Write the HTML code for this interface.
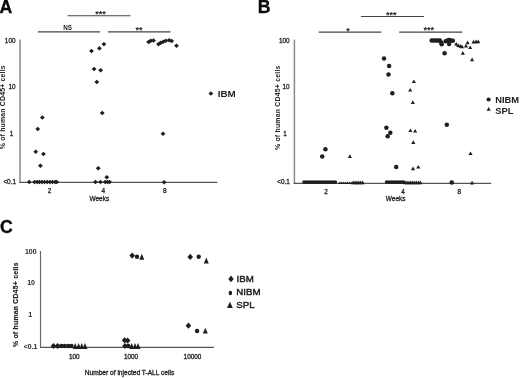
<!DOCTYPE html>
<html><head><meta charset="utf-8"><title>Figure</title>
<style>html,body{margin:0;padding:0;background:#fff}body{width:520px;height:378px;overflow:hidden}svg{display:block;filter:blur(0.35px)}</style>
</head><body>
<svg width="520" height="378" viewBox="0 0 520 378">
<rect width="520" height="378" fill="#fff"/>
<g stroke="#8a8a8a" stroke-width="1.5" fill="none">
<path d="M20.05 39.4V182.6"/>
<path d="M294.4 39.6V183.9"/>
<path d="M40.5 251V347.4" stroke="#666" stroke-width="1.15"/>
</g>
<g stroke="#555" stroke-width="1.25" fill="none">
<path d="M19.3 182.3H217.3"/>
<path d="M293.6 183.3H491.2"/>
<path d="M40 347.4H214" stroke-width="1.1"/>
</g>
<g stroke="#444" stroke-width="1.1" fill="none">
<path d="M67.5 15.7H130.5M37.8 31.9H100M108 31.9H170.5"/>
<path d="M361 16.5H424M318.7 32.1H381.3M399.2 32.1H462.3"/>
</g>
<g fill="#1e1e1e">
<path d="M42.4 115.3L44.8 117.5L42.4 119.8L40.0 117.5Z"/>
<path d="M37.8 126.8L40.1 129.1L37.8 131.3L35.4 129.1Z"/>
<path d="M35.8 149.6L38.1 151.8L35.8 154.1L33.4 151.8Z"/>
<path d="M43.4 151.7L45.8 153.9L43.4 156.2L41.0 153.9Z"/>
<path d="M40.4 163.6L42.8 165.8L40.4 168.1L38.0 165.8Z"/>
<path d="M29.2 179.8L31.6 182.1L29.2 184.3L26.9 182.1Z"/>
<path d="M34.5 179.8L36.9 182.1L34.5 184.3L32.1 182.1Z"/>
<path d="M37.1 179.8L39.5 182.1L37.1 184.3L34.8 182.1Z"/>
<path d="M39.4 179.8L41.8 182.1L39.4 184.3L37.0 182.1Z"/>
<path d="M41.9 179.8L44.3 182.1L41.9 184.3L39.5 182.1Z"/>
<path d="M44.5 179.8L46.9 182.1L44.5 184.3L42.1 182.1Z"/>
<path d="M47.2 179.8L49.6 182.1L47.2 184.3L44.9 182.1Z"/>
<path d="M49.9 179.8L52.2 182.1L49.9 184.3L47.5 182.1Z"/>
<path d="M52.5 179.8L54.9 182.1L52.5 184.3L50.1 182.1Z"/>
<path d="M55.1 179.8L57.5 182.1L55.1 184.3L52.8 182.1Z"/>
<path d="M56.8 179.8L59.1 182.1L56.8 184.3L54.4 182.1Z"/>
<path d="M102.2 110.7L104.7 113.0L102.2 115.2L99.8 113.0Z"/>
<path d="M98.2 166.0L100.7 168.2L98.2 170.5L95.8 168.2Z"/>
<path d="M106.8 175.0L109.2 177.2L106.8 179.5L104.3 177.2Z"/>
<path d="M95.4 179.8L97.8 182.1L95.4 184.3L93.0 182.1Z"/>
<path d="M100.5 179.8L102.9 182.1L100.5 184.3L98.0 182.1Z"/>
<path d="M105.2 179.8L107.6 182.1L105.2 184.3L102.8 182.1Z"/>
<path d="M107.5 179.8L109.9 182.1L107.5 184.3L105.0 182.1Z"/>
<path d="M109.6 179.8L112.0 182.1L109.6 184.3L107.2 182.1Z"/>
<path d="M91.5 48.8L93.9 51.0L91.5 53.3L89.0 51.0Z"/>
<path d="M99.4 46.1L101.8 48.4L99.4 50.6L97.0 48.4Z"/>
<path d="M103.9 41.9L106.3 44.1L103.9 46.4L101.5 44.1Z"/>
<path d="M94.1 66.8L96.5 69.0L94.1 71.3L91.7 69.0Z"/>
<path d="M100.7 68.1L103.1 70.3L100.7 72.6L98.2 70.3Z"/>
<path d="M96.8 79.7L99.2 82.0L96.8 84.2L94.3 82.0Z"/>
<path d="M148.7 39.8L151.1 42.0L148.7 44.3L146.2 42.0Z"/>
<path d="M150.8 38.5L153.2 40.8L150.8 43.0L148.3 40.8Z"/>
<path d="M153.5 38.2L155.9 40.5L153.5 42.7L151.1 40.5Z"/>
<path d="M158.5 41.9L160.9 44.1L158.5 46.4L156.1 44.1Z"/>
<path d="M160.6 40.6L163.0 42.9L160.6 45.1L158.2 42.9Z"/>
<path d="M163.2 39.5L165.6 41.8L163.2 44.0L160.8 41.8Z"/>
<path d="M165.8 38.5L168.2 40.8L165.8 43.0L163.4 40.8Z"/>
<path d="M169.1 38.0L171.5 40.2L169.1 42.5L166.7 40.2Z"/>
<path d="M171.7 38.7L174.1 41.0L171.7 43.2L169.2 41.0Z"/>
<path d="M176.5 43.5L178.9 45.8L176.5 48.0L174.1 45.8Z"/>
<path d="M163.0 131.6L165.4 133.8L163.0 136.1L160.6 133.8Z"/>
<path d="M164.1 180.0L166.5 182.2L164.1 184.5L161.7 182.2Z"/>
<path d="M210.9 91.2L213.3 93.5L210.9 95.8L208.5 93.5Z"/>
<circle cx="325.4" cy="149.2" r="2.25"/>
<circle cx="322.2" cy="156.6" r="2.25"/>
<circle cx="304.1" cy="182.1" r="1.85"/>
<circle cx="306.5" cy="182.1" r="1.85"/>
<circle cx="308.9" cy="182.1" r="1.85"/>
<circle cx="311.3" cy="182.1" r="1.85"/>
<circle cx="313.7" cy="182.1" r="1.85"/>
<circle cx="316.1" cy="182.1" r="1.85"/>
<circle cx="318.5" cy="182.1" r="1.85"/>
<circle cx="320.9" cy="182.1" r="1.85"/>
<circle cx="323.3" cy="182.1" r="1.85"/>
<circle cx="325.7" cy="182.1" r="1.85"/>
<circle cx="328.1" cy="182.1" r="1.85"/>
<circle cx="330.5" cy="182.1" r="1.85"/>
<circle cx="332.9" cy="182.1" r="1.85"/>
<circle cx="335.3" cy="182.1" r="1.85"/>
<circle cx="384.0" cy="58.5" r="2.25"/>
<circle cx="389.1" cy="65.9" r="2.25"/>
<circle cx="388.5" cy="74.4" r="2.25"/>
<circle cx="392.3" cy="93.2" r="2.25"/>
<circle cx="386.4" cy="127.8" r="2.25"/>
<circle cx="390.3" cy="132.7" r="2.25"/>
<circle cx="387.7" cy="136.2" r="2.25"/>
<circle cx="396.2" cy="167.0" r="2.25"/>
<circle cx="386.7" cy="182.1" r="1.85"/>
<circle cx="389.1" cy="182.1" r="1.85"/>
<circle cx="391.5" cy="182.1" r="1.85"/>
<circle cx="393.9" cy="182.1" r="1.85"/>
<circle cx="396.3" cy="182.1" r="1.85"/>
<circle cx="398.7" cy="182.1" r="1.85"/>
<circle cx="401.1" cy="182.1" r="1.85"/>
<circle cx="403.5" cy="182.1" r="1.85"/>
<circle cx="431.7" cy="40.6" r="2.25"/>
<circle cx="433.8" cy="40.6" r="2.25"/>
<circle cx="435.9" cy="40.6" r="2.25"/>
<circle cx="438.0" cy="40.6" r="2.25"/>
<circle cx="439.9" cy="40.6" r="2.25"/>
<circle cx="441.2" cy="42.6" r="2.25"/>
<circle cx="441.7" cy="44.2" r="2.25"/>
<circle cx="445.7" cy="41.3" r="2.25"/>
<circle cx="447.5" cy="40.5" r="2.25"/>
<circle cx="449.1" cy="40.1" r="2.25"/>
<circle cx="451.0" cy="40.5" r="2.25"/>
<circle cx="452.8" cy="40.8" r="2.25"/>
<circle cx="449.1" cy="44.0" r="2.25"/>
<circle cx="444.6" cy="53.2" r="2.25"/>
<circle cx="446.8" cy="124.8" r="2.25"/>
<circle cx="451.8" cy="182.6" r="2.25"/>
<path d="M349.9 154.2L351.9 157.9L347.8 157.9Z"/>
<path d="M339.8 181.4L341.3 183.9L338.3 183.9Z"/>
<path d="M341.7 181.4L343.2 183.9L340.2 183.9Z"/>
<path d="M343.6 181.4L345.1 183.9L342.1 183.9Z"/>
<path d="M345.5 181.4L347.0 183.9L344.0 183.9Z"/>
<path d="M347.4 181.4L348.9 183.9L345.9 183.9Z"/>
<path d="M349.3 181.4L350.8 183.9L347.8 183.9Z"/>
<path d="M351.2 181.4L352.7 183.9L349.7 183.9Z"/>
<path d="M353.1 180.6L355.1 184.2L351.0 184.2Z"/>
<path d="M355.0 180.6L357.0 184.2L352.9 184.2Z"/>
<path d="M356.9 180.6L358.9 184.2L354.8 184.2Z"/>
<path d="M358.8 180.6L360.8 184.2L356.7 184.2Z"/>
<path d="M360.7 180.6L362.7 184.2L358.6 184.2Z"/>
<path d="M362.6 180.6L364.6 184.2L360.5 184.2Z"/>
<path d="M413.9 79.5L415.9 83.1L411.8 83.1Z"/>
<path d="M410.2 88.0L412.2 91.6L408.1 91.6Z"/>
<path d="M412.8 100.3L414.9 104.0L410.8 104.0Z"/>
<path d="M410.4 128.4L412.4 132.1L408.3 132.1Z"/>
<path d="M415.2 128.9L417.2 132.6L413.1 132.6Z"/>
<path d="M413.3 140.3L415.4 144.0L411.2 144.0Z"/>
<path d="M413.1 166.6L415.1 170.2L411.0 170.2Z"/>
<path d="M418.3 164.9L420.4 168.6L416.2 168.6Z"/>
<path d="M405.2 180.6L407.2 184.2L403.1 184.2Z"/>
<path d="M407.1 180.6L409.1 184.2L405.0 184.2Z"/>
<path d="M409.0 180.6L411.0 184.2L406.9 184.2Z"/>
<path d="M410.9 180.6L412.9 184.2L408.8 184.2Z"/>
<path d="M412.8 180.6L414.8 184.2L410.7 184.2Z"/>
<path d="M414.7 180.6L416.7 184.2L412.6 184.2Z"/>
<path d="M416.6 180.6L418.6 184.2L414.5 184.2Z"/>
<path d="M418.5 180.6L420.5 184.2L416.4 184.2Z"/>
<path d="M420.4 180.6L422.4 184.2L418.3 184.2Z"/>
<path d="M456.2 42.0L458.2 45.6L454.1 45.6Z"/>
<path d="M458.2 43.2L460.2 46.9L456.1 46.9Z"/>
<path d="M460.4 44.0L462.4 47.7L458.3 47.7Z"/>
<path d="M462.0 44.5L464.1 48.2L459.9 48.2Z"/>
<path d="M462.8 51.1L464.9 54.8L460.8 54.8Z"/>
<path d="M466.0 43.8L468.1 47.4L463.9 47.4Z"/>
<path d="M467.6 40.5L469.6 44.2L465.5 44.2Z"/>
<path d="M470.2 45.4L472.2 49.0L468.1 49.0Z"/>
<path d="M472.1 57.5L474.1 61.2L470.0 61.2Z"/>
<path d="M473.6 39.8L475.6 43.4L471.5 43.4Z"/>
<path d="M476.0 39.5L478.1 43.2L473.9 43.2Z"/>
<path d="M478.2 39.5L480.2 43.2L476.1 43.2Z"/>
<path d="M470.5 151.4L472.6 155.1L468.4 155.1Z"/>
<path d="M472.1 180.8L474.1 184.4L470.0 184.4Z"/>
<circle cx="488.6" cy="99.5" r="2.1"/>
<path d="M488.7 107.0L490.8 110.7L486.6 110.7Z"/>
<path d="M53.5 342.9L56.3 346.0L53.5 349.1L50.7 346.0Z"/>
<path d="M57.5 342.9L60.3 346.0L57.5 349.1L54.7 346.0Z"/>
<path d="M132.2 252.5L135.0 255.6L132.2 258.7L129.4 255.6Z"/>
<path d="M190.2 253.8L193.0 256.9L190.2 260.0L187.4 256.9Z"/>
<path d="M188.4 322.6L191.2 325.7L188.4 328.8L185.6 325.7Z"/>
<path d="M124.6 337.2L127.4 340.3L124.6 343.4L121.8 340.3Z"/>
<path d="M127.6 337.5L130.4 340.6L127.6 343.7L124.8 340.6Z"/>
<path d="M125.0 342.9L127.8 346.0L125.0 349.1L122.2 346.0Z"/>
<circle cx="61.2" cy="346.0" r="2.2"/>
<circle cx="64.7" cy="346.0" r="2.2"/>
<circle cx="68.2" cy="346.0" r="2.2"/>
<circle cx="71.5" cy="346.0" r="2.2"/>
<circle cx="137.0" cy="256.8" r="2.2"/>
<circle cx="198.7" cy="256.7" r="2.2"/>
<circle cx="197.1" cy="331.0" r="2.2"/>
<circle cx="128.3" cy="346.0" r="2.2"/>
<path d="M75.2 343.0L77.7 348.9L72.7 348.9Z"/>
<path d="M78.6 343.0L81.1 348.9L76.1 348.9Z"/>
<path d="M81.8 343.0L84.3 348.9L79.3 348.9Z"/>
<path d="M85.0 343.0L87.5 348.9L82.5 348.9Z"/>
<path d="M141.8 253.8L144.3 259.7L139.3 259.7Z"/>
<path d="M206.3 257.6L208.8 263.5L203.8 263.5Z"/>
<path d="M205.3 327.7L207.8 333.6L202.8 333.6Z"/>
<path d="M131.7 343.0L134.2 348.9L129.2 348.9Z"/>
<path d="M135.0 343.0L137.5 348.9L132.5 348.9Z"/>
<path d="M138.0 343.0L140.5 348.9L135.5 348.9Z"/>
<path d="M231.0 275.6L233.7 278.9L231.0 282.2L228.3 278.9Z"/>
<ellipse cx="230.4" cy="293" rx="1.75" ry="2.2"/>
<path d="M229.9 301.8L232.8 307.9L227.0 307.9Z"/>
</g>
<g font-family="'Liberation Sans',Arial,sans-serif" fill="#222">
<g font-weight="bold" font-size="17.7px" fill="#0a0a0a" stroke="#0a0a0a" stroke-width="0.3"><text x="-0.5" y="12.8">A</text><text x="257.8" y="12.8">B</text><text x="-0.1" y="232.9">C</text></g>
<g font-size="6.4px" text-anchor="end" stroke="#222" stroke-width="0.28">
<text x="15.5" y="42.6">100</text>
<text x="15.5" y="88.7">10</text>
<text x="13.3" y="136">1</text>
<text x="16" y="184.2">&lt;0.1</text>
</g>
<g font-size="6.4px" text-anchor="middle" stroke="#222" stroke-width="0.28">
<text x="49.5" y="192.8">2</text>
<text x="103.4" y="192.8">4</text>
<text x="164.9" y="192.8">8</text>
<text x="99.3" y="200.8" font-size="6.5px">Weeks</text>
</g>
<text font-size="6.9px" font-weight="bold" text-anchor="middle" transform="translate(5.1 107.3) rotate(-90)" textLength="83.8">% of human CD45+ cells</text>
<g font-size="6.3px" text-anchor="middle" font-weight="bold"><text x="67.5" y="29.8">NS</text><text x="100.6" y="16.7" font-size="9px">***</text><text x="138.9" y="33.2" font-size="9px">**</text></g>
<text x="217.7" y="96.8" font-size="9.8px" font-weight="bold">IBM</text>
<g font-size="6.4px" text-anchor="end" stroke="#222" stroke-width="0.28">
<text x="289.6" y="42.9">100</text>
<text x="289.6" y="88.9">10</text>
<text x="286.9" y="136.1">1</text>
<text x="289.8" y="184.2">&lt;0.1</text>
</g>
<g font-size="6.4px" text-anchor="middle" stroke="#222" stroke-width="0.28">
<text x="326" y="193.5">2</text>
<text x="403.1" y="193.5">4</text>
<text x="459.4" y="193.5">8</text>
<text x="395.7" y="201" font-size="6.5px">Weeks</text>
</g>
<text font-size="6.9px" font-weight="bold" text-anchor="middle" transform="translate(279.7 107.8) rotate(-90)" textLength="84.5">% of human CD45+ cells</text>
<g font-size="9px" font-weight="bold" text-anchor="middle"><text x="348" y="33.5">*</text><text x="391.3" y="17.9">***</text><text x="428.8" y="33.4">***</text></g>
<g font-size="9.4px" font-weight="bold"><text x="495.2" y="103.2">NIBM</text><text x="495.2" y="113.8">SPL</text></g>
<g font-size="7px" text-anchor="end" font-weight="bold">
<text x="36.6" y="254.3">100</text>
<text x="35" y="285">10</text>
<text x="32.2" y="316.6">1</text>
<text x="37.5" y="348.6">&lt;0.1</text>
</g>
<g font-size="6.4px" text-anchor="middle" stroke="#222" stroke-width="0.3">
<text x="74.3" y="359.4">100</text>
<text x="131" y="359.4">1000</text>
<text x="192.5" y="359.4">10000</text>
<text x="129.5" y="374.8" font-size="6.6px">Number of injected T-ALL cells</text>
</g>
<text font-size="6.8px" font-weight="bold" stroke="#222" stroke-width="0.2" text-anchor="middle" transform="translate(17.9 304.8) rotate(-90)" textLength="84.6">% of human CD45+ cells</text>
<g font-size="9.7px" stroke="#222" stroke-width="0.45"><text x="236.6" y="282.3">IBM</text><text x="236.3" y="294.7">NIBM</text><text x="236.3" y="307.8">SPL</text></g>
</g>
</svg>
</body></html>
